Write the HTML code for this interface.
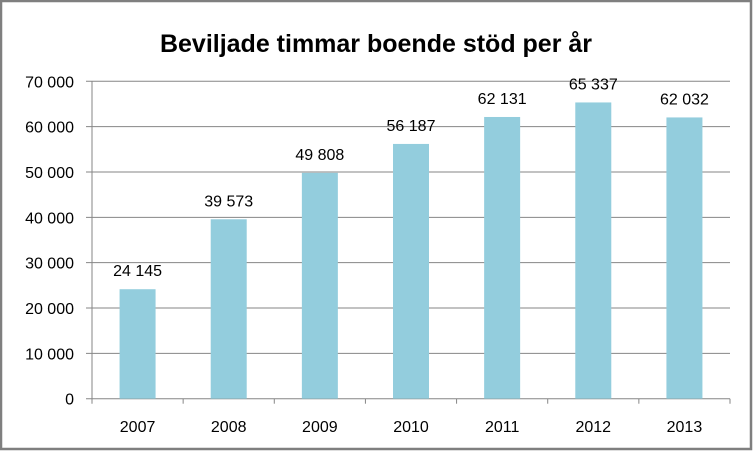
<!DOCTYPE html>
<html><head><meta charset="utf-8"><style>
body{margin:0;background:#fff;}
svg{display:block;font-family:"Liberation Sans",sans-serif;}
</style></head><body>
<svg id="c" width="753" height="451" viewBox="0 0 753 451">
<rect x="1" y="1" width="750" height="448" fill="#fff" stroke="#7f7f7f" stroke-width="2.5"/>
<text x="376" y="52" text-anchor="middle" font-size="25" font-weight="bold" fill="#000">Beviljade timmar boende stöd per år</text>
<g id="grid"></g><g id="bars"></g><g id="labels"></g>
</svg>
<script>
const categories=["2007","2008","2009","2010","2011","2012","2013"];
const values=[24145,39573,49808,56187,62131,65337,62032];
const valueLabels=["24 145","39 573","49 808","56 187","62 131","65 337","62 032"];
const yTicks=[0,10000,20000,30000,40000,50000,60000,70000];
const yTickLabels=["0","10 000","20 000","30 000","40 000","50 000","60 000","70 000"];
const NS="http://www.w3.org/2000/svg";
const L=92,R=730,T=81.3,B=398.7,yMax=70000;
const y=v=>B-(v/yMax)*(B-T);
const bw=(R-L)/categories.length;
const x=i=>L+bw*(i+0.5);
function mk(t,a,p){const e=document.createElementNS(NS,t);for(const k in a)e.setAttribute(k,a[k]);p.appendChild(e);return e;}
const g=document.getElementById('grid'),b=document.getElementById('bars'),lb=document.getElementById('labels');
yTicks.forEach((v,i)=>{
 const ln=mk('line',{x1:86,x2:R,y1:y(v),y2:y(v),stroke:'#868686','stroke-width':1},g);
 
 
 const t=mk('text',{x:74,y:y(v)+6,'text-anchor':'end','font-size':16,fill:'#000'},g);
 t.textContent=yTickLabels[i];
 
 
});
const ax=mk('line',{x1:L,x2:L,y1:T,y2:B,stroke:'#868686'},g);


for(let i=0;i<=categories.length;i++){
 const tk=mk('line',{x1:L+bw*i,x2:L+bw*i,y1:B,y2:B+5,stroke:'#868686'},g);
 
 
}
categories.forEach((c,i)=>{
 const w=36;
 const r=mk('rect',{x:x(i)-w/2,y:y(values[i]),width:w,height:B-y(values[i]),fill:'#93cddd'},b);
 
 
 const vt=mk('text',{x:x(i),y:y(values[i])-13,'text-anchor':'middle','font-size':16,fill:'#000'},lb);
 vt.textContent=valueLabels[i];
 
 
 const ct=mk('text',{x:x(i),y:432,'text-anchor':'middle','font-size':16,fill:'#000'},lb);
 ct.textContent=c;
 
 
});
</script>
</body></html>
